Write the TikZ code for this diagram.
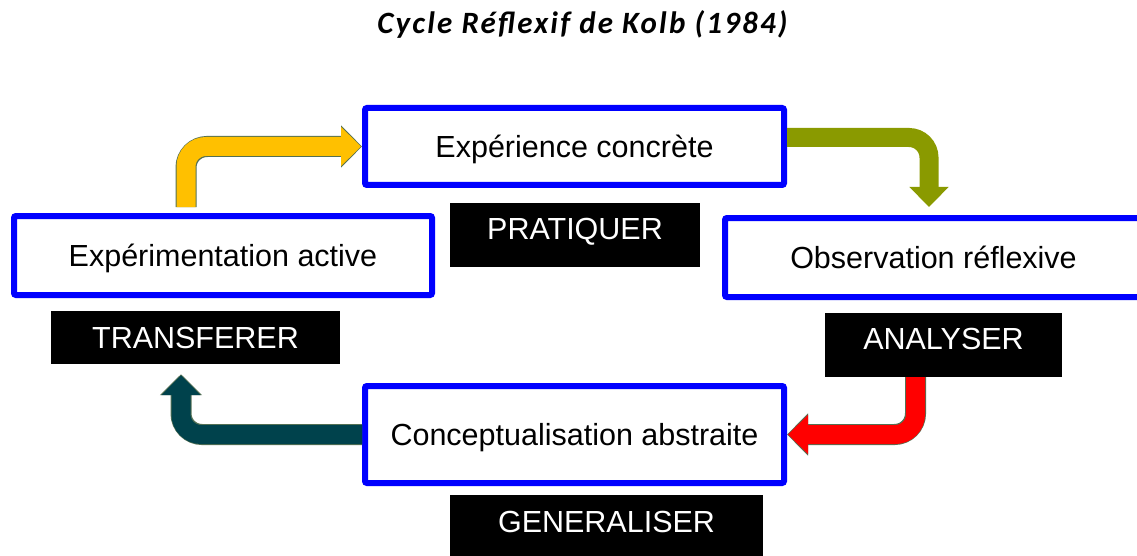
\documentclass[tikz,border=0pt]{standalone}
\usepackage{fontspec}
\setmainfont{Liberation Sans}
\newfontfamily\titlefont[LetterSpace=7]{Carlito}
\usetikzlibrary{arrows.meta}
\definecolor{cadre}{RGB}{0,0,255}
\definecolor{jaune}{RGB}{255,192,0}
\definecolor{kaki}{RGB}{138,154,0}
\definecolor{rouge}{RGB}{255,0,0}
\definecolor{sarcelle}{RGB}{0,66,76}
\definecolor{liseret}{RGB}{84,112,84}
\tikzstyle{etape}=[draw=cadre, line width=6pt, fill=white,
                   rounded corners=2pt, inner sep=0pt,
                   text height=22pt, text depth=0pt,
                   font=\fontsize{30.5}{36}\selectfont]
\tikzstyle{verbe}=[fill=black, text=white, inner sep=0pt,
                   font=\fontsize{30.5}{36}\selectfont]
\tikzstyle{haut}=[text depth=12pt]
\tikzstyle{fleche}=[line width=19pt, rounded corners=20pt,
                    -{Triangle[length=20pt,width=38pt]}]
\tikzstyle{contour}=[draw=liseret, line width=21pt, rounded corners=21pt,
                     -{Triangle[length=21pt,width=41pt]}]

\begin{document}
\begin{tikzpicture}[x=1pt, y=-1pt]
   \useasboundingbox (0,0) rectangle (1137,556);
   \clip (0,0) rectangle (1137,556);
   \node (titre) at (582.5,34) [anchor=base,
        font=\titlefont\bfseries\itshape\fontsize{31}{36}\selectfont]
        {Cycle Réflexif de Kolb (1984)};

   % les quatre etapes
   \node (exp) at (574.5,146.5) [etape, minimum width=419pt, minimum height=77pt]
        {Expérience concrète};
   \node (act) at (223,255.5)   [etape, minimum width=418pt, minimum height=79pt]
        {Expérimentation active};
   \node (obs) at (933.5,257.5) [etape, minimum width=417pt, minimum height=79pt]
        {Observation réflexive};
   \node (con) at (574.5,434.5) [etape, minimum width=419pt, minimum height=97pt]
        {Conceptualisation abstraite};

   % les verbes
   \node (pra) at (575,235)     [verbe, haut, minimum width=250pt, minimum height=64pt] {PRATIQUER};
   \node (tra) at (195.5,337.5) [verbe, minimum width=289pt, minimum height=53pt] {TRANSFERER};
   \node (ana) at (943.5,345)   [verbe, haut, minimum width=237pt, minimum height=64pt] {ANALYSER};
   \node (gen) at (606.5,528)   [verbe, haut, minimum width=313pt, minimum height=66pt] {GENERALISER};

   % les fleches
   \draw [contour] ([xshift=-37pt,yshift=6pt]act.north) |- (exp.west);
   \draw [fleche, draw=jaune, shorten >=1pt] ([xshift=-37pt,yshift=6pt]act.north) |- (exp.west);
   \draw [fleche, draw=kaki] ([yshift=9pt]exp.east) -| ([xshift=-4.5pt,yshift=8pt]obs.north);
   \draw [contour] ([xshift=-28pt]ana.south) |- (con.east);
   \draw [fleche, draw=rouge, shorten >=1pt] ([xshift=-28pt]ana.south) |- (con.east);
   \draw [contour] (con.west) -| ([xshift=-14.5pt,yshift=-10pt]tra.south);
   \draw [fleche, draw=sarcelle, shorten >=1pt] (con.west) -| ([xshift=-14.5pt,yshift=-10pt]tra.south);
\end{tikzpicture}
\end{document}
